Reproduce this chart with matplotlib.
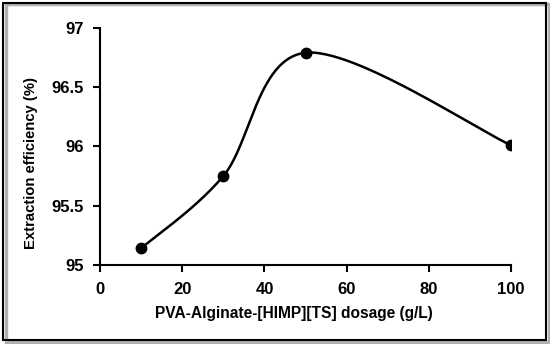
import numpy as np
import matplotlib
matplotlib.use('Agg')
import matplotlib.pyplot as plt
from matplotlib.patches import Rectangle

dosage = [10, 30, 50, 100]
efficiency = [95.14, 95.75, 96.79, 96.01]
x_ticks = [0, 20, 40, 60, 80, 100]
y_ticks = [95, 95.5, 96, 96.5, 97]
y_labels = ['95', '95.5', '96', '96.5', '97']


def smooth(xs, ys, n=60):
    # Excel-like smoothed line: cubic Bezier with Catmull-Rom control points
    p = np.column_stack([xs, ys]).astype(float)
    out = []
    for i in range(len(p) - 1):
        p0 = p[i - 1] if i > 0 else p[i]
        p3 = p[i + 2] if i + 2 < len(p) else p[i + 1]
        c1 = p[i] + (p[i + 1] - p0) / 6
        c2 = p[i + 1] - (p3 - p[i]) / 6
        t = np.linspace(0, 1, n)[:, None]
        seg = ((1 - t) ** 3 * p[i] + 3 * (1 - t) ** 2 * t * c1
               + 3 * (1 - t) * t ** 2 * c2 + t ** 3 * p[i + 1])
        out.append(seg)
    out = np.vstack(out)
    return out[:, 0], out[:, 1]


plt.rcParams['font.family'] = ['Liberation Sans', 'DejaVu Sans']
plt.rcParams['font.weight'] = 'bold'

fig = plt.figure(figsize=(5.5, 3.44), dpi=100)
ax = fig.add_axes([0.182, 0.230, 0.747, 0.689])

sx, sy = smooth(dosage, efficiency)
ax.plot(sx, sy, color='black', lw=1.8, zorder=2)
ax.plot(dosage, efficiency, 'o', color='black', ms=7.5, zorder=3)

ax.set_xlim(0, 100)
ax.set_ylim(95, 97)
ax.set_xticks(x_ticks)
ax.set_yticks(y_ticks)
ax.set_yticklabels(y_labels)
ax.tick_params(labelsize=12, width=1.5, length=5, pad=7)
for lab in ax.get_xticklabels() + ax.get_yticklabels():
    lab.set_fontweight('bold')
ax.spines['top'].set_visible(False)
ax.spines['right'].set_visible(False)
for s in ('left', 'bottom'):
    ax.spines[s].set_linewidth(1.5)

ax.set_xlabel('PVA-Alginate-[HIMP][TS] dosage (g/L)', fontsize=11.2, fontweight='bold')
ax.set_ylabel('Extraction efficiency (%)', fontsize=10.7, fontweight='bold')
ax.xaxis.set_label_coords(0.472, -0.175)
ax.yaxis.set_label_coords(-0.152, 0.43)

# frame with shadow around the figure
fig.patches.append(Rectangle((0.010, 0.006), 0.988, 0.982, transform=fig.transFigure,
                             facecolor='none', edgecolor='#b0b0b0', lw=2.5, zorder=0))
fig.patches.append(Rectangle((0.005, 0.012), 0.988, 0.978, transform=fig.transFigure,
                             facecolor='none', edgecolor='black', lw=1.5, zorder=1))

fig.savefig('out.png', dpi=100)
